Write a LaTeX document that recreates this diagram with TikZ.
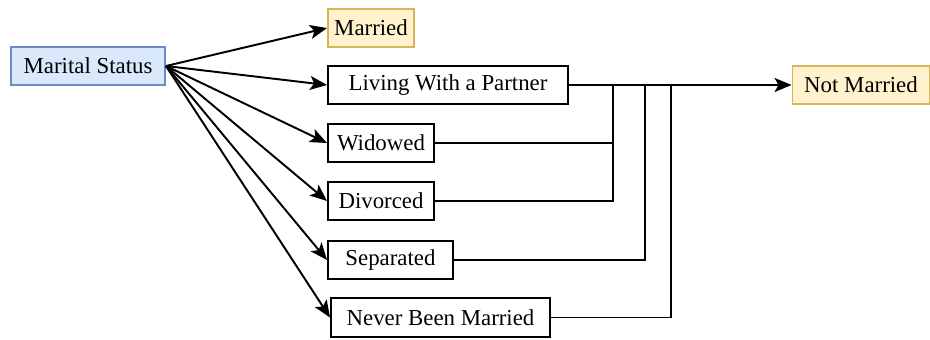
\documentclass[tikz,border=0pt]{standalone}
\usepackage{fontspec}
\setmainfont{Liberation Serif}
\usetikzlibrary{arrows.meta}

\definecolor{bluefill}{HTML}{DAE8FC}
\definecolor{blueline}{HTML}{6C8EBF}
\definecolor{yelfill}{HTML}{FFF2CC}
\definecolor{yelline}{HTML}{D6B656}

\begin{document}
\begin{tikzpicture}[font=\fontsize{13}{14}\selectfont,
  box/.style={draw=black, line width=1.1pt, fill=white, minimum height=0.77cm, inner sep=2pt},
  root/.style={box, draw=blueline, fill=bluefill},
  goal/.style={box, draw=yelline, fill=yelfill},
  arr/.style={-{Stealth[length=3.4mm, width=2.8mm, inset=0.8mm]}, line width=1.1pt},
  link/.style={line width=1.1pt}]
\useasboundingbox (0,0) rectangle (18.6,-6.78);
\node[root, minimum width=3.08cm] (status) at (1.76,-1.32) {Marital Status};
\node[goal, minimum width=1.72cm] (married) at (7.42,-0.56) {Married};
\node[box, minimum width=4.80cm] (partner) at (8.96,-1.70) {Living With a Partner};
\node[box, minimum width=2.12cm] (widowed) at (7.62,-2.86) {Widowed};
\node[box, minimum width=2.12cm] (divorced) at (7.62,-4.02) {Divorced};
\node[box, minimum width=2.50cm] (separated) at (7.81,-5.20) {Separated};
\node[box, minimum width=4.38cm] (never) at (8.81,-6.35) {Never Been Married};
\node[goal, minimum width=2.74cm] (notmarried) at (17.22,-1.70) {Not Married};
\coordinate (ja) at (12.26,-1.70);
\coordinate (jb) at (12.90,-1.70);
\coordinate (jc) at (13.42,-1.70);
\foreach \v in {married, partner, widowed, divorced, separated, never}
  \draw[arr] (status.east) -- (\v.west);
\draw[arr] (partner.east) -- (notmarried.west);
\draw[link] (widowed.east) -| (ja);
\draw[link] (divorced.east) -| (ja);
\draw[link] (separated.east) -| (jb);
\draw[link] (never.east) -| (jc);
\end{tikzpicture}
\end{document}
